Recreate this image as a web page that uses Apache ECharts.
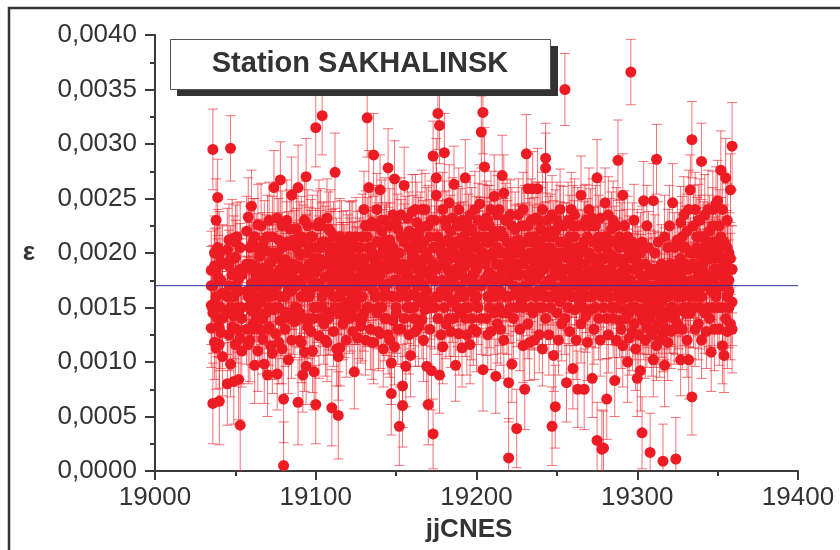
<!DOCTYPE html>
<html>
<head>
<meta charset="utf-8">
<script src="https://cdn.jsdelivr.net/npm/echarts@6/dist/echarts.min.js"></script>
<style>
html,body{margin:0;padding:0;background:#fff}
#chart{width:840px;height:550px}
</style>
</head>
<body>
<div id="chart"></div>
<script>
// Observation days (jjCNES), one entry per day
const days = [
19035,19036,19037,19038,19039,19040,19041,19042,19043,19044,
19045,19046,19047,19048,19049,19050,19051,19052,19053,19054,
19055,19056,19057,19058,19059,19060,19061,19062,19063,19064,
19065,19066,19067,19068,19069,19070,19071,19072,19073,19074,
19075,19076,19077,19078,19079,19080,19081,19082,19083,19084,
19085,19086,19087,19088,19089,19090,19091,19092,19093,19094,
19095,19096,19097,19098,19099,19100,19101,19102,19103,19104,
19105,19106,19107,19108,19109,19110,19111,19112,19113,19114,
19115,19116,19117,19118,19119,19120,19121,19122,19123,19124,
19125,19126,19127,19128,19129,19130,19131,19132,19133,19134,
19135,19136,19137,19138,19139,19140,19141,19142,19143,19144,
19145,19146,19147,19148,19149,19150,19151,19152,19153,19154,
19155,19156,19157,19158,19159,19160,19161,19162,19163,19164,
19165,19166,19167,19168,19169,19170,19171,19172,19173,19174,
19175,19176,19177,19178,19179,19180,19181,19182,19183,19184,
19185,19186,19187,19188,19189,19190,19191,19192,19193,19194,
19195,19196,19197,19198,19199,19200,19201,19202,19203,19204,
19205,19206,19207,19208,19209,19210,19211,19212,19213,19214,
19215,19216,19217,19218,19219,19220,19221,19222,19223,19224,
19225,19226,19227,19228,19229,19230,19231,19232,19233,19234,
19235,19236,19237,19238,19239,19240,19241,19242,19243,19244,
19245,19246,19247,19248,19249,19250,19251,19252,19253,19254,
19255,19256,19257,19258,19259,19260,19261,19262,19263,19264,
19265,19266,19267,19268,19269,19270,19271,19272,19273,19274,
19275,19276,19277,19278,19279,19280,19281,19282,19283,19284,
19285,19286,19287,19288,19289,19290,19291,19292,19293,19294,
19295,19296,19297,19298,19299,19300,19301,19302,19303,19304,
19305,19306,19307,19308,19309,19310,19311,19312,19313,19314,
19315,19316,19317,19318,19319,19320,19321,19322,19323,19324,
19325,19326,19327,19328,19329,19330,19331,19332,19333,19334,
19335,19336,19337,19338,19339,19340,19341,19342,19343,19344,
19345,19346,19347,19348,19349,19350,19351,19352,19353,19354,
19355,19356,19357,19358,19359
];

// ε values in units of 1e-5, four solutions per day (null = no solution)
const epsA = [
184,295,200,230,251,64,150,105,null,null,
80,188,296,213,82,196,215,84,42,180,
null,null,165,233,120,172,210,188,142,176,
197,155,186,168,202,88,230,160,181,260,
195,89,212,267,182,66,194,230,176,140,
253,212,185,150,260,198,172,88,109,270,
225,190,205,168,91,315,186,228,140,326,
192,210,165,222,180,58,172,274,160,51,
113,210,165,190,172,155,200,178,210,91,
188,168,195,133,215,190,170,324,260,205,
228,290,195,240,175,258,188,205,165,198,
278,212,71,235,114,190,222,41,168,60,
262,96,180,205,106,238,175,210,160,190,
222,139,185,240,96,61,215,92,34,230,
253,328,317,210,114,292,200,185,246,176,
205,263,97,225,180,212,113,188,269,200,
175,116,222,195,240,185,205,170,311,329,
279,195,230,182,215,168,252,87,205,178,
220,271,255,190,145,12,235,98,200,162,
39,212,180,225,150,75,291,259,200,230,
259,190,176,259,210,165,240,185,287,200,
175,220,41,106,59,230,195,210,180,225,
350,81,195,172,240,94,215,185,75,200,
253,165,75,230,178,200,148,85,210,186,
269,195,172,20,21,246,66,180,212,150,
190,83,225,285,160,210,253,180,140,100,
200,366,165,185,150,85,160,92,35,248,
150,170,140,17,180,248,150,286,135,165,
190,9,97,160,205,145,178,246,130,11,
160,190,102,215,175,145,220,102,258,304,
200,165,215,178,230,284,190,145,210,240,
180,109,225,195,160,248,205,276,240,106,
269,230,200,258,298
];
const epsB = [
131,62,154,113,178,116,192,140,null,null,
203,125,98,160,142,116,130,176,122,150,
null,null,220,116,190,147,135,158,205,110,
130,225,121,98,145,175,132,191,108,148,
126,170,150,138,112,5,160,145,207,190,
120,168,137,222,63,145,118,210,182,96,
160,140,128,215,195,61,150,172,205,160,
135,178,118,192,145,205,128,190,112,105,
182,150,195,140,205,182,168,145,160,175,
152,205,140,180,160,240,225,185,150,130,
172,118,160,145,210,126,150,112,230,140,
172,120,99,160,268,145,175,200,130,78,
185,215,150,125,190,162,140,195,228,132,
155,205,170,148,200,182,155,176,289,150,
160,188,88,165,195,172,135,212,140,220,
155,182,198,150,126,168,195,160,140,228,
210,192,165,130,172,215,150,245,140,93,
175,140,160,210,128,198,145,190,235,150,
165,185,120,230,210,81,150,180,140,222,
190,168,130,155,240,198,180,135,165,185,
145,215,232,150,125,222,150,205,278,160,
125,190,160,200,182,145,168,240,135,160,
175,210,230,128,185,200,148,170,225,155,
180,205,190,142,215,160,195,232,175,150,
28,140,232,185,210,168,205,125,160,198,
140,175,150,168,205,130,158,225,195,160,
145,175,210,135,195,170,125,180,160,138,
190,132,205,155,125,102,200,160,182,120,
140,158,185,130,175,162,128,150,205,172,
212,148,180,160,235,190,120,185,160,68,
150,240,185,135,198,160,215,235,170,150,
220,200,150,172,245,185,130,170,150,210,
190,160,150,135,155
];
const epsC = [
152,170,118,185,140,198,127,163,null,null,
160,212,150,132,195,170,182,146,205,110,
null,null,130,186,152,243,168,97,178,226,
160,184,140,212,175,130,190,115,215,200,
170,232,118,185,205,178,130,172,102,222,
180,145,206,170,188,120,215,160,230,165,
132,205,176,110,150,182,225,124,188,210,
166,120,232,145,200,170,215,150,198,180,
215,168,135,178,120,198,140,212,128,195,
215,122,176,160,190,145,120,150,205,178,
118,195,225,182,128,198,220,170,140,212,
125,186,200,138,192,228,130,160,215,190,
140,170,232,176,150,200,218,128,185,205,
178,240,120,195,165,225,130,230,190,205,
269,140,205,125,240,150,225,160,195,128,
232,140,170,210,240,145,230,215,176,125,
150,235,140,210,158,128,230,190,200,225,
215,232,125,150,240,175,220,160,135,240,
130,145,200,160,175,195,205,225,170,190,
150,235,205,190,115,170,210,225,118,150,
198,120,160,205,180,195,112,170,140,230,
215,150,235,178,220,190,120,155,200,185,
140,165,150,205,160,178,235,120,195,172,
135,150,225,170,118,240,180,160,130,225,
165,215,120,160,150,195,140,235,175,222,
230,210,120,195,138,182,115,148,170,215,
122,150,128,230,112,205,190,145,210,175,
120,225,160,185,145,168,130,115,210,150,
172,125,215,145,118,225,190,168,140,185,
135,175,228,130,150,205,168,240,145,190,
225,130,160,230,150,120,175,205,128,195,
140,165,240,130,210,150,225,195,115,180,
140,128,175,185,130
];
const epsD = [
170,145,188,160,205,132,175,190,null,null,
145,170,195,180,160,210,150,165,185,140,
null,null,190,160,205,130,185,215,150,170,
180,140,205,160,185,215,150,175,200,165,
150,200,175,160,225,190,145,210,165,185,
165,190,150,205,175,215,160,185,140,200,
180,160,215,190,140,205,170,195,225,150,
210,165,190,140,220,185,160,205,175,145,
160,190,205,150,185,168,215,175,190,150,
175,190,160,205,140,195,180,215,170,225,
200,165,190,210,150,180,230,160,205,185,
190,225,160,205,175,150,200,185,235,165,
210,180,160,220,175,195,150,240,170,215,
190,170,210,160,225,195,180,150,205,175,
185,215,160,200,175,230,190,165,210,180,
170,210,185,195,160,225,180,205,150,190,
220,165,195,180,205,160,190,215,170,200,
190,210,180,225,160,200,175,215,190,165,
200,175,215,185,230,160,190,205,180,210,
185,200,165,210,190,225,160,195,215,175,
210,180,200,165,230,185,205,160,215,190,
190,205,170,215,160,200,185,225,165,210,
200,185,165,215,175,225,190,160,205,180,
190,175,210,160,200,185,225,170,195,165,
180,205,165,195,175,215,160,200,185,170,
170,195,180,160,215,175,190,165,205,185,
175,160,195,170,150,185,165,200,140,160,
165,150,180,140,170,155,185,160,145,175,
155,180,140,170,160,185,150,175,165,145,
180,160,195,170,205,165,185,150,200,175,
190,175,205,165,215,185,170,200,180,210,
195,175,210,185,165,200,180,215,170,190,
175,205,165,195,185
];

// Formal error (1 sigma) per day, units of 1e-5
const sig = [
36,37,34,38,35,40,33,36,35,35,
38,33,30,36,39,34,31,37,42,33,
35,35,32,36,38,33,40,35,31,37,
34,39,32,36,33,38,35,31,37,34,
36,33,38,35,32,40,34,37,31,36,
35,38,33,36,39,32,37,34,36,35,
33,37,34,38,35,36,32,39,34,36,
37,33,36,34,38,35,32,36,34,40,
35,38,33,36,34,37,32,35,38,34,
36,33,37,34,39,35,32,36,34,37,
34,38,35,33,36,32,37,35,39,34,
36,34,38,33,35,37,32,36,34,38,
35,37,33,36,38,34,35,32,37,36,
34,36,38,33,35,37,34,36,32,38,
36,33,35,38,34,36,32,37,35,33,
37,35,33,36,38,34,36,32,35,37,
34,36,38,33,35,37,34,36,33,38,
36,34,32,37,35,33,38,34,36,35,
33,37,35,34,38,36,32,35,37,34,
36,33,38,35,34,37,36,32,35,38,
34,36,33,37,35,38,34,36,32,35,
37,34,36,33,38,35,32,37,34,36,
33,36,35,38,34,37,33,36,35,34,
36,34,37,33,35,38,34,36,32,37,
35,38,33,36,34,32,37,35,38,34,
36,33,35,37,34,36,38,32,35,37,
34,30,36,33,38,35,34,37,33,36,
35,37,33,36,38,34,35,32,37,34,
36,34,38,33,35,37,34,36,32,38,
34,36,33,37,35,38,34,36,32,35,
37,34,36,33,38,35,32,37,34,36,
33,36,35,38,34,37,33,36,35,34,
36,34,37,33,40
];

// Mean ε over the period
const meanEps = [0.0017];

// Axis ranges and ticks
const xRange = [19000, 19400, 100];
const yRange = [0, 0.004, 0.0005];

const UNIT = 1e-5;
const points = [];
[epsD, epsC, epsB, epsA].forEach(function (col) {
  col.forEach(function (v, i) {
    if (v !== null) points.push([days[i], v * UNIT, sig[i] * UNIT]);
  });
});

const RED = '#ed1c24';
const BAR = 'rgba(237,28,36,0.62)';
const AXIS = '#3a3a3a';
const FONT = 'Liberation Sans, Arial, sans-serif';

const chart = echarts.init(document.getElementById('chart'), null, {renderer: 'canvas'});

chart.setOption({
  animation: false,
  backgroundColor: '#fff',
  grid: {left: 155, right: 42, top: 35, bottom: 79, containLabel: false, outerBoundsMode: 'none'},
  xAxis: {
    type: 'value',
    min: xRange[0], max: xRange[1], interval: xRange[2],
    axisLine: {lineStyle: {color: AXIS, width: 2}},
    axisTick: {inside: false, length: 9, lineStyle: {color: AXIS, width: 2}},
    minorTick: {show: true, splitNumber: 2, length: 5, lineStyle: {color: AXIS, width: 2}},
    splitLine: {show: false},
    axisLabel: {
      fontSize: 26, color: '#333', fontFamily: FONT, margin: 14,
      formatter: function (v) { return String(v); }
    }
  },
  yAxis: {
    type: 'value',
    min: yRange[0], max: yRange[1], interval: yRange[2],
    axisLine: {show: true, lineStyle: {color: AXIS, width: 2}},
    axisTick: {show: true, inside: false, length: 10, lineStyle: {color: AXIS, width: 2}},
    minorTick: {show: true, splitNumber: 2, length: 5, lineStyle: {color: AXIS, width: 2}},
    splitLine: {show: false},
    axisLabel: {
      fontSize: 26, color: '#333', fontFamily: FONT, margin: 18,
      formatter: function (v) { return v.toFixed(4).replace('.', ','); }
    }
  },
  series: [
    {
      type: 'custom',
      name: 'sigma',
      data: points,
      clip: true,
      z: 2,
      encode: {x: 0, y: 1},
      renderItem: function (params, api) {
        const x = api.value(0), y = api.value(1), s = api.value(2);
        const top = api.coord([x, y + s]);
        const bot = api.coord([x, y - s]);
        const hw = 5;
        const style = {stroke: BAR, lineWidth: 1, fill: null};
        return {
          type: 'group',
          children: [
            {type: 'line', shape: {x1: top[0], y1: top[1], x2: bot[0], y2: bot[1]}, style: style},
            {type: 'line', shape: {x1: top[0] - hw, y1: top[1], x2: top[0] + hw, y2: top[1]}, style: style},
            {type: 'line', shape: {x1: bot[0] - hw, y1: bot[1], x2: bot[0] + hw, y2: bot[1]}, style: style}
          ]
        };
      }
    },
    {
      type: 'scatter',
      name: 'eps',
      data: points.map(function (p) { return [p[0], p[1]]; }),
      symbol: 'circle',
      symbolSize: 11,
      itemStyle: {color: RED, opacity: 1},
      z: 3
    },
    {
      type: 'line',
      name: 'mean',
      data: [[xRange[0], meanEps[0]], [xRange[1], meanEps[0]]],
      symbol: 'none',
      lineStyle: {color: '#2e3192', width: 1},
      silent: true,
      z: 4
    }
  ],
  graphic: [
    {type: 'rect', z: 100, shape: {x: 9, y: 8, width: 900, height: 600},
      style: {fill: null, stroke: '#333', lineWidth: 2.5}},
    {type: 'rect', z: 100, shape: {x: 177, y: 46, width: 381, height: 50},
      style: {fill: '#333'}},
    {type: 'rect', z: 101, shape: {x: 170.5, y: 39.5, width: 380, height: 50},
      style: {fill: '#fff', stroke: '#555', lineWidth: 1}},
    {type: 'text', z: 102, x: 360, y: 64,
      style: {text: 'Station SAKHALINSK', fill: '#333', font: 'bold 29px ' + FONT,
        align: 'center', verticalAlign: 'middle'}},
    {type: 'text', z: 102, x: 29, y: 253,
      style: {text: 'ε', fill: '#333', font: 'bold 26px ' + FONT,
        align: 'center', verticalAlign: 'middle'}},
    {type: 'text', z: 102, x: 469, y: 530,
      style: {text: 'jjCNES', fill: '#333', font: 'bold 26px ' + FONT,
        align: 'center', verticalAlign: 'middle'}}
  ]
});
</script>
</body>
</html>
